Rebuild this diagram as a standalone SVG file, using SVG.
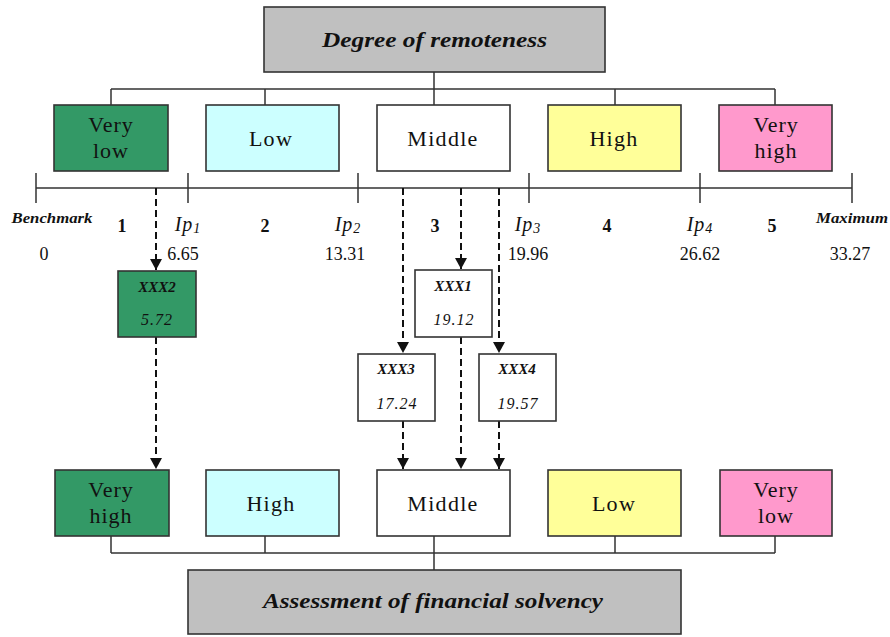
<svg xmlns="http://www.w3.org/2000/svg" width="890" height="637" viewBox="0 0 890 637">
<style>
  .box { stroke: #333; stroke-width: 1.6; }
  .gray { fill: #c0c0c0; }
  .green { fill: #339966; }
  .cyan { fill: #ccffff; }
  .white { fill: #ffffff; }
  .yellow { fill: #ffff99; }
  .pink { fill: #ff99cc; }
  .t { font-family: "Liberation Serif", "Times New Roman", serif; fill: #111; }
  .lbl { font-size: 22px; text-anchor: middle; }
  .title { font-size: 22px; font-weight: bold; font-style: italic; text-anchor: middle; }
  .num { font-size: 18px; text-anchor: middle; }
  .zone { font-size: 18px; font-weight: bold; text-anchor: middle; }
  .ip { font-size: 20px; font-style: italic; text-anchor: middle; letter-spacing: 1px; }
  .end { font-size: 14px; font-weight: bold; font-style: italic; text-anchor: middle; }
  .xn { font-size: 15px; font-weight: bold; font-style: italic; text-anchor: middle; }
  .xv { font-size: 16px; font-style: italic; text-anchor: middle; letter-spacing: 1px; }
  .conn { stroke: #333; stroke-width: 1.5; fill: none; }
  .dash { stroke: #111; stroke-width: 2; stroke-dasharray: 7 4; fill: none; }
</style>
<defs>
  <marker id="arr" markerUnits="userSpaceOnUse" markerWidth="12" markerHeight="12" refX="11" refY="6" orient="auto">
    <path d="M0,0 L11,6 L0,12 z" fill="#111"/>
  </marker>
</defs>
<rect width="890" height="637" fill="#ffffff"/>

<g id="connectors">
  <path class="conn" d="M434,72 V89 M111,89 H775 M111,89 V105 M265,89 V105 M434,89 V105 M615,89 V105 M775,89 V105"/>
  <path class="conn" d="M111,536 V553 M265,536 V553 M434,536 V570 M615,536 V553 M775,536 V553 M111,553 H775"/>
  <g id="axis">
    <path class="conn" d="M36,188 H852 M36,173 V203 M188,173 V203 M358,173 V203 M529,173 V203 M700,173 V203 M852,173 V203"/>
  </g>
  <path class="dash" d="M156,188 V270" marker-end="url(#arr)"/>
  <path class="dash" d="M156,337 V469" marker-end="url(#arr)"/>
  <path class="dash" d="M403,188 V353" marker-end="url(#arr)"/>
  <path class="dash" d="M403,421 V469" marker-end="url(#arr)"/>
  <path class="dash" d="M461,188 V269" marker-end="url(#arr)"/>
  <path class="dash" d="M461,337 V469" marker-end="url(#arr)"/>
  <path class="dash" d="M499,188 V353" marker-end="url(#arr)"/>
  <path class="dash" d="M499,421 V469" marker-end="url(#arr)"/>
</g>

<g id="degree">
  <rect class="box gray" x="264" y="7" width="341" height="65"/>
  <text class="t title" x="434.5" y="47" textLength="225" lengthAdjust="spacingAndGlyphs">Degree of remoteness</text>
</g>

<g id="top-very-low">
  <rect class="box green" x="54" y="105" width="114" height="66"/>
  <text class="t lbl" x="111" y="132" letter-spacing="1">Very</text>
  <text class="t lbl" x="111" y="158" letter-spacing="1">low</text>
</g>
<g id="top-low">
  <rect class="box cyan" x="206" y="105" width="133" height="66"/>
  <text class="t lbl" x="271" y="146" letter-spacing="1.3">Low</text>
</g>
<g id="top-middle">
  <rect class="box white" x="377" y="105" width="133" height="66"/>
  <text class="t lbl" x="443" y="146" letter-spacing="1.3">Middle</text>
</g>
<g id="top-high">
  <rect class="box yellow" x="548" y="105" width="133" height="66"/>
  <text class="t lbl" x="614" y="146" letter-spacing="1.3">High</text>
</g>
<g id="top-very-high">
  <rect class="box pink" x="719" y="105" width="113" height="66"/>
  <text class="t lbl" x="776" y="132" letter-spacing="1">Very</text>
  <text class="t lbl" x="776" y="158" letter-spacing="1">high</text>
</g>

<g id="scale-labels">
  <text class="t end" x="52" y="223" textLength="81" lengthAdjust="spacingAndGlyphs">Benchmark</text>
  <text class="t zone" x="122" y="232">1</text>
  <text class="t ip" x="188" y="231">Ip<tspan font-size="14" dy="2">1</tspan></text>
  <text class="t zone" x="265" y="232">2</text>
  <text class="t ip" x="348" y="231">Ip<tspan font-size="14" dy="2">2</tspan></text>
  <text class="t zone" x="435" y="232">3</text>
  <text class="t ip" x="528" y="231">Ip<tspan font-size="14" dy="2">3</tspan></text>
  <text class="t zone" x="607" y="232">4</text>
  <text class="t ip" x="700" y="231">Ip<tspan font-size="14" dy="2">4</tspan></text>
  <text class="t zone" x="772" y="232">5</text>
  <text class="t end" x="852" y="223" textLength="72" lengthAdjust="spacingAndGlyphs">Maximum</text>
  <text class="t num" x="44" y="260">0</text>
  <text class="t num" x="183" y="260">6.65</text>
  <text class="t num" x="345" y="260">13.31</text>
  <text class="t num" x="528" y="260">19.96</text>
  <text class="t num" x="700" y="260">26.62</text>
  <text class="t num" x="850" y="260">33.27</text>
</g>

<g id="xxx2">
  <rect class="box green" x="118" y="271" width="78" height="66"/>
  <text class="t xn" x="157" y="292">XXX2</text>
  <text class="t xv" x="157" y="325">5.72</text>
</g>
<g id="xxx1">
  <rect class="box white" x="415" y="270" width="77" height="67"/>
  <text class="t xn" x="453" y="291">XXX1</text>
  <text class="t xv" x="454" y="325">19.12</text>
</g>
<g id="xxx3">
  <rect class="box white" x="358" y="354" width="77" height="67"/>
  <text class="t xn" x="396" y="374">XXX3</text>
  <text class="t xv" x="397" y="409">17.24</text>
</g>
<g id="xxx4">
  <rect class="box white" x="479" y="354" width="77" height="67"/>
  <text class="t xn" x="517" y="374">XXX4</text>
  <text class="t xv" x="518" y="409">19.57</text>
</g>

<g id="bot-very-high">
  <rect class="box green" x="55" y="470" width="114" height="66"/>
  <text class="t lbl" x="111" y="497" letter-spacing="1">Very</text>
  <text class="t lbl" x="111" y="523" letter-spacing="1">high</text>
</g>
<g id="bot-high">
  <rect class="box cyan" x="206" y="470" width="133" height="66"/>
  <text class="t lbl" x="271" y="511" letter-spacing="1.3">High</text>
</g>
<g id="bot-middle">
  <rect class="box white" x="377" y="470" width="133" height="66"/>
  <text class="t lbl" x="443" y="511" letter-spacing="1.3">Middle</text>
</g>
<g id="bot-low">
  <rect class="box yellow" x="548" y="470" width="133" height="66"/>
  <text class="t lbl" x="614" y="511" letter-spacing="1.3">Low</text>
</g>
<g id="bot-very-low">
  <rect class="box pink" x="720" y="470" width="112" height="66"/>
  <text class="t lbl" x="776" y="497" letter-spacing="1">Very</text>
  <text class="t lbl" x="776" y="523" letter-spacing="1">low</text>
</g>

<g id="assessment">
  <rect class="box gray" x="188" y="570" width="493" height="64"/>
  <text class="t title" x="433" y="608" textLength="340" lengthAdjust="spacingAndGlyphs">Assessment of financial solvency</text>
</g>
</svg>
